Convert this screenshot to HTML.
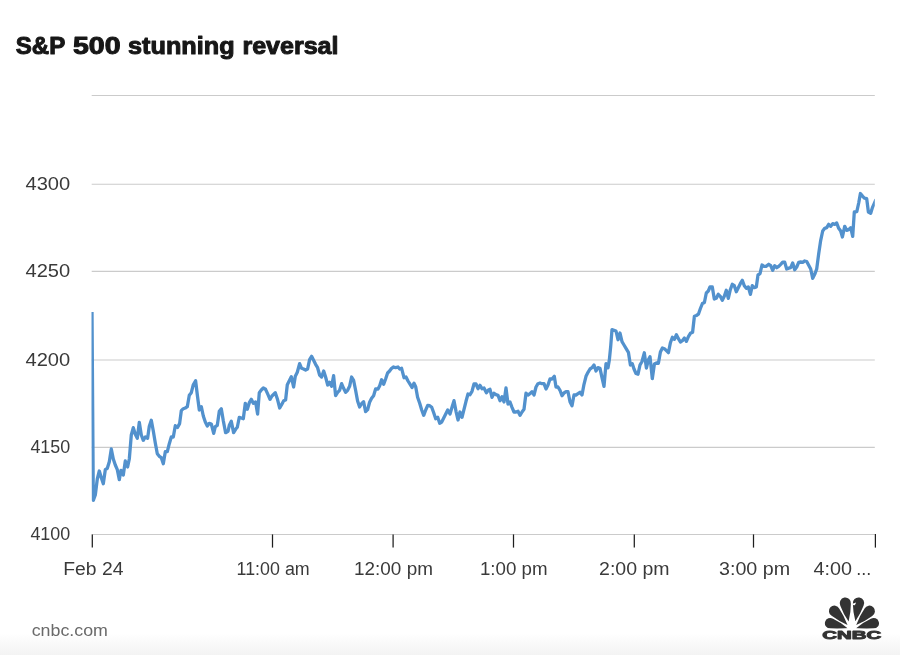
<!DOCTYPE html>
<html lang="en">
<head>
<meta charset="utf-8">
<title>S&amp;P 500 stunning reversal</title>
<style>
html,body{margin:0;padding:0;background:#fff;}
body{width:900px;height:655px;overflow:hidden;font-family:"Liberation Sans",sans-serif;}
svg{display:block;}
text{font-family:"Liberation Sans",sans-serif;}
.ttl{font-weight:bold;font-size:23.5px;fill:#171717;stroke:#171717;stroke-width:1px;stroke-linejoin:round;}
.ax{font-size:18px;fill:#3a3a3a;}
.src{font-size:16.5px;fill:#6a6a6a;}
</style>
</head>
<body>
<svg width="900" height="655" viewBox="0 0 900 655">
<defs>
<linearGradient id="fade" x1="0" y1="0" x2="0" y2="1">
<stop offset="0" stop-color="#ffffff"/>
<stop offset="1" stop-color="#f3f3f3"/>
</linearGradient>
<clipPath id="plot"><rect x="91.5" y="90" width="783.3" height="450"/></clipPath>
<clipPath id="logoclip"><rect x="815" y="590" width="75" height="38.5"/></clipPath>
</defs>
<rect x="0" y="0" width="900" height="655" fill="#fff"/>
<rect x="0" y="633" width="900" height="22" fill="url(#fade)"/>

<!-- title -->
<text class="ttl" y="54.3"><tspan x="15.75" textLength="49.05" lengthAdjust="spacingAndGlyphs">S&amp;P</tspan> <tspan x="72.95" textLength="47.55" lengthAdjust="spacingAndGlyphs">500</tspan> <tspan x="128.05" textLength="106.5" lengthAdjust="spacingAndGlyphs">stunning</tspan> <tspan x="242.45" textLength="96.05" lengthAdjust="spacingAndGlyphs">reversal</tspan></text>

<!-- grid -->
<g stroke="#cbcbcb" stroke-width="1.1" fill="none">
<line x1="91.7" y1="95.5" x2="874.8" y2="95.5"/>
<line x1="91.7" y1="184.3" x2="874.8" y2="184.3"/>
<line x1="91.7" y1="271.4" x2="874.8" y2="271.4"/>
<line x1="91.7" y1="360" x2="874.8" y2="360"/>
<line x1="91.7" y1="447.35" x2="874.8" y2="447.35"/>
<line x1="91.7" y1="534.5" x2="874.8" y2="534.5"/>
</g>
<!-- ticks -->
<g stroke="#1e1e1e" stroke-width="1.25" fill="none">
<line x1="92.3" y1="534.4" x2="92.3" y2="547.6"/>
<line x1="272.5" y1="534.4" x2="272.5" y2="547.6"/>
<line x1="393.1" y1="534.4" x2="393.1" y2="547.6"/>
<line x1="513.5" y1="534.4" x2="513.5" y2="547.6"/>
<line x1="634.3" y1="534.4" x2="634.3" y2="547.6"/>
<line x1="753.5" y1="534.4" x2="753.5" y2="547.6"/>
<line x1="875.4" y1="534" x2="875.4" y2="547.6"/>
</g>

<!-- y labels -->
<g class="ax">
<text x="25.5" y="190.1" textLength="44.7" lengthAdjust="spacingAndGlyphs">4300</text>
<text x="25.5" y="277.3" textLength="44.7" lengthAdjust="spacingAndGlyphs">4250</text>
<text x="25.5" y="365.5" textLength="44.7" lengthAdjust="spacingAndGlyphs">4200</text>
<text x="30.4" y="453.1" textLength="39.8" lengthAdjust="spacingAndGlyphs">4150</text>
<text x="30.4" y="540.4" textLength="39.8" lengthAdjust="spacingAndGlyphs">4100</text>
</g>
<!-- x labels -->
<g class="ax">
<text x="63.3" y="575.1" textLength="60.1" lengthAdjust="spacingAndGlyphs">Feb 24</text>
<text x="236.6" y="575" textLength="73.1" lengthAdjust="spacingAndGlyphs">11:00 am</text>
<text x="354.1" y="575" textLength="78.8" lengthAdjust="spacingAndGlyphs">12:00 pm</text>
<text x="479.9" y="575" textLength="67.6" lengthAdjust="spacingAndGlyphs">1:00 pm</text>
<text x="599.1" y="575" textLength="70.5" lengthAdjust="spacingAndGlyphs">2:00 pm</text>
<text x="719" y="575" textLength="71.1" lengthAdjust="spacingAndGlyphs">3:00 pm</text>
<text y="575"><tspan x="813.5" textLength="38.5" lengthAdjust="spacingAndGlyphs">4:00</tspan> <tspan x="856.2" textLength="15" lengthAdjust="spacingAndGlyphs">...</tspan></text>
</g>

<!-- series -->
<polyline clip-path="url(#plot)" fill="none" stroke="#5291cd" stroke-width="3.3" stroke-linejoin="round" stroke-linecap="butt" points="92,312 93.3,500.3 95.3,495 97.3,479 99.3,471 101.3,477.7 103.3,483.7 105.3,469.7 107.3,468.3 109.3,461.7 111.3,449 113.3,459 115.3,465 117.3,469.7 119.3,479.7 121,470.3 123.3,475 125.3,461 127.6,467 129.3,459 131.3,435 133.3,427.7 135.3,434.3 137.3,438.3 139.3,422.3 141.3,435 143.3,440.3 145.3,437 147.6,438.3 149.3,426.3 151.3,420.3 153.3,431 155.3,443 157.3,453.7 159.3,456.3 161.3,457.7 163.3,463.7 165.3,451.7 167.3,451.7 169.3,443.7 171.3,437 173.3,437 175.3,425.7 177.5,427.4 179.6,423.6 181.3,410.7 183.3,408.7 185.3,408 187.3,406.7 189.3,395.3 191.3,392.7 193.3,384.7 195.6,380.7 197.3,394.7 199.3,410 201.3,406.7 203.3,416 205.3,422 207.3,426 209.3,423.3 211.3,424 213.7,433.3 215.3,426.7 217.3,425.3 219.3,411.3 221.3,408.7 223.3,420.7 225.6,432.7 228,431.3 229.3,425.3 231.3,421.3 233.6,432.7 235.6,429.3 237.3,427.3 239.3,417.3 241.3,418 243.3,418.7 245.3,403.3 247.3,409.3 249.3,402.7 251.3,399.3 253.3,403.3 255.6,402 257.6,414 259.3,392.7 261.3,390 263.3,388 265.6,389.3 268,394.7 270,399.3 272,396 275.3,392.7 277.3,398.7 279.7,408 281.6,404.7 283.7,400.7 285.6,400 287.3,384.7 289.3,380.7 291.3,376.7 293.6,387 295.3,376.3 297.3,372.3 299.6,363.7 301.6,368.3 303.6,369 305.6,370 307.6,369 309.6,359.7 311.6,356.3 313.6,360.3 315.6,364.3 317.6,367.7 319.6,375 321.6,377 323.7,371 325.6,377 327.7,385 329.6,382.3 331.6,386.3 333.6,375.7 335.6,395.7 337.6,392.3 339.6,390.3 341.6,383.7 343.6,388.3 345.6,392.3 347.6,390.3 349.6,386.3 351.6,377 353.6,380.3 355.6,390.3 357.6,401 359.6,407 361.6,403.7 363.6,401.7 365.6,411.7 367.6,409.7 369.6,402.3 371.6,398.3 373.6,395.7 375.6,389 378,389 379.7,385.7 381.6,379.7 383.7,384.3 385.6,379 387.6,373 389.6,371 391.6,368.3 393.6,367 395.6,367.7 398,367 399.7,369 401.6,368.3 404,377.7 406,377 408,381 410,384.2 412,387.5 414,383.3 415.7,386.7 417.6,397.3 419.7,403.3 421.7,410 423.7,415.3 425.7,410 427.7,405.3 429.7,405.7 431.7,407.3 433.7,412.7 435.7,418.7 437.7,417.3 439.7,423.3 441.7,422 443.7,418 445.7,414 447.7,410 450,414 452,407.3 454,400.7 456,411.3 458,420 460,412 462,417.3 464,409.3 466,401.3 468,394 470,394.7 472,391.3 474,384 476,384 478,388.7 480,385.3 482,388.7 484,388 486.4,392.7 488.4,390 490,389.3 492,397.3 494,393.3 496,394.7 498,395.3 500,400.7 502,396.7 504,402 506,388 508,404 510,402 512,407.3 514,412 516,412 518,411.3 520,415.3 522,412 524,409.3 526,393.2 528,395 530,393.7 532,391.7 534,395 536,387 538,383.7 540,383 542,383.7 544,383.7 546,389 548,385 550,379 552,379 554.3,376.3 556,387 558,387 560,390.3 562,395.7 564,393 566,391.7 568,391.7 570,401.7 572,405.7 574,395 576,395 578,393.7 580,392.3 582,395 584,384.3 586,376.3 588,372.3 590,369 592,367.7 594,365 596,371 598,367.7 600,368.3 602,377.7 604,386.3 606,363.7 608,367.7 609.3,360.3 610.7,346.3 612,329.7 614,330.3 616,331 618,339.7 620,333 622,341.7 624,345 626,348.3 628.4,352.3 630.4,365 632.3,363.7 634,369 636,373.5 638,374.2 640,365 642,361.5 644.3,352.8 646.4,368 648.3,360 650,356.7 652.3,378.7 654.4,364 656.4,363 658.4,363.3 660.4,352 662.4,348 664.4,348.7 666.4,350.7 668.4,352.7 670.4,342.7 672.4,337.3 674.4,339.3 676.4,334.7 678.4,338.7 680.4,342 682.4,340.7 684.4,338 686.4,341.3 688.4,336.7 690.4,333.3 692.6,332.2 694.4,316.2 696.4,315.5 698.4,314.2 700.4,308.5 702.4,303.5 704.4,302.5 706.3,293 708.3,291 710,287 712.3,287 714.3,299 716.3,298.3 718.3,294.3 720.3,296.3 722.3,300.3 724.3,296.3 726.3,290.3 728.3,298.3 730.3,289.7 732.3,284.3 734.3,285.7 736.3,291.7 738.3,287.7 740.3,283.7 742.3,280.3 744.3,285.7 746.3,288.3 748.3,287 750.4,294.3 752.3,285.7 754.3,287.7 756.3,287 758,275 760,273.7 762,265 764,266.3 766,266.3 768.7,264.3 770.7,265.7 772.7,270.3 774.7,265.7 776.7,267.7 778.7,266.3 780.7,264.3 782.7,262.2 784.7,262.2 786.7,269 788.7,268.2 790.7,267.7 792.7,263 794.7,269.7 796.7,267 798.7,262.3 800.7,262 802.7,262.3 804.7,261 806.7,261.5 808.7,265.3 810.7,269 812.7,278.3 814.7,274.3 816.7,269 818.7,253.7 820.7,240.3 822.7,231 824.7,228.3 826.7,227.7 828.7,224.3 830.7,226.3 832.7,223.7 834.7,224.3 836.7,223 838.7,228.3 840.7,231 842.4,237 844.7,226.3 846.7,230.3 848.7,229.7 850.7,227.7 852.7,236.3 854.3,212 856.8,211.6 858.7,203 860.4,193.5 862.7,196.4 864.4,198.2 866.7,198.7 868.4,212 870.7,213.3 872.4,207.6 874.4,203.1 876,199.5"/>

<!-- source -->
<text class="src" x="31.7" y="636.2" textLength="76.2" lengthAdjust="spacingAndGlyphs">cnbc.com</text>

<!-- logo -->
<g fill="#333">
<g clip-path="url(#logoclip)">
<path d="M848.60,621.60 Q843.08,613.35 840.33,605.68 A5.6,5.6 0 1 1 850.86,603.80 Q850.93,611.95 848.60,621.60 Z"/>
<path d="M855.40,621.20 Q852.92,611.86 852.86,603.93 A5.7,5.7 0 1 1 863.54,605.76 Q860.85,613.22 855.40,621.20 Z"/>
<path d="M847.50,625.00 Q838.23,620.93 831.65,615.86 A5.5,5.5 0 1 1 839.32,608.64 Q843.98,615.51 847.50,625.00 Z"/>
<path d="M856.20,625.00 Q859.84,615.47 864.60,608.59 A5.5,5.5 0 1 1 872.22,615.88 Q865.56,620.94 856.20,625.00 Z"/>
<path d="M847.60,628.20 Q838.12,629.52 830.32,628.60 A5.3,5.3 0 1 1 833.07,618.84 Q840.20,622.13 847.60,628.20 Z"/>
<path d="M856.10,628.20 Q863.63,622.12 870.86,618.83 A5.3,5.3 0 1 1 873.58,628.60 Q865.69,629.52 856.10,628.20 Z"/>
<path d="M852.3,603.7 L856.2,602.5 L854.8,605.2 L852.6,605 Z" fill="#fff"/>
</g>
<text x="822.3" y="639.3" textLength="58.9" lengthAdjust="spacingAndGlyphs" stroke="#333" stroke-width="0.9" stroke-linejoin="round" style="font-weight:bold;font-size:11.2px;">CNBC</text>
</g>
</svg>
</body>
</html>
